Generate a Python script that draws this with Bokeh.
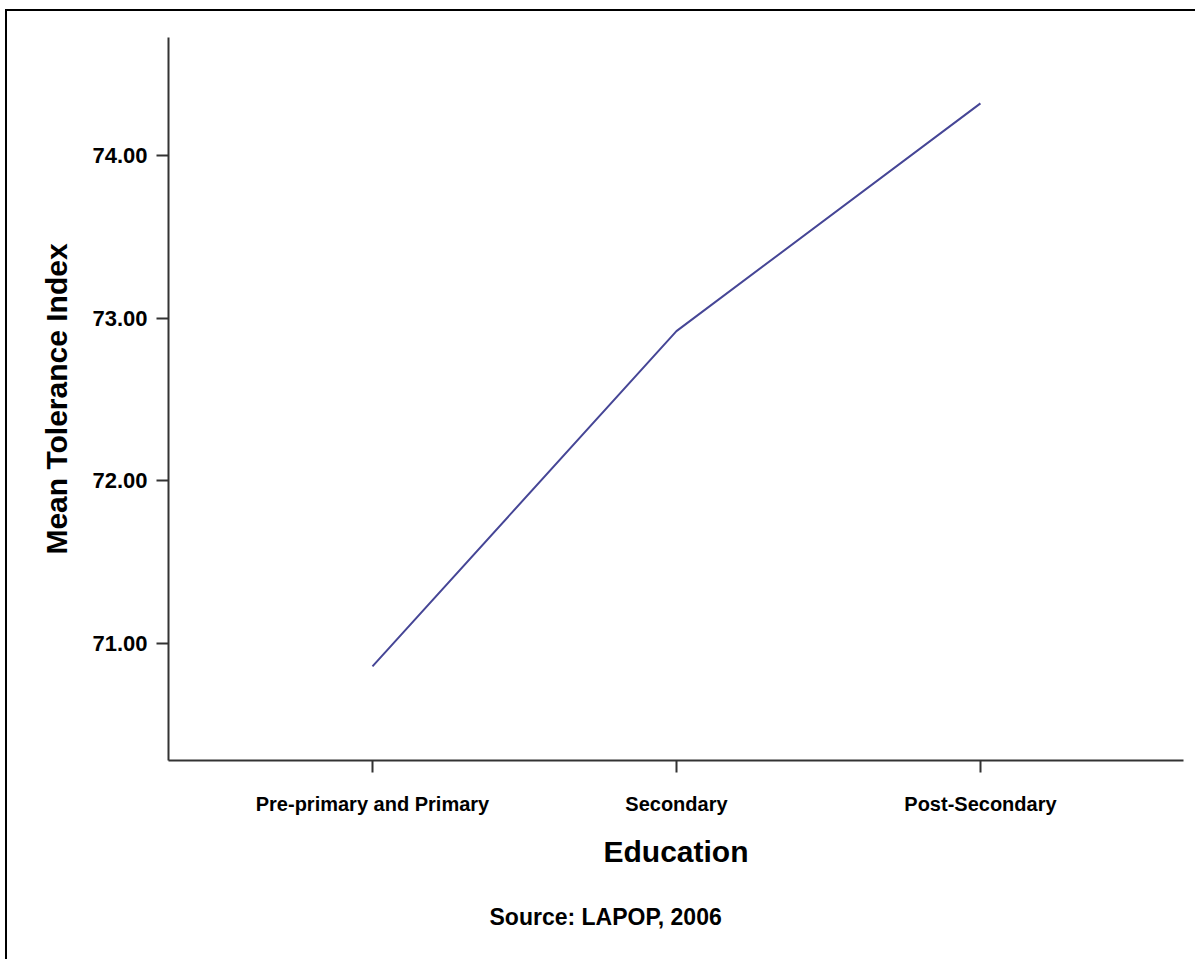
from bokeh.plotting import figure
from bokeh.models import FixedTicker, Range1d, Title
from bokeh.embed import file_html
from bokeh.resources import INLINE

categories = ["Pre-primary and Primary", "Secondary", "Post-Secondary"]
mean_tolerance = [70.86, 72.92, 74.32]
y_ticks = [71.0, 72.0, 73.0, 74.0]
y_tick_labels = ["71.00", "72.00", "73.00", "74.00"]

x_title = "Education"
y_title = "Mean Tolerance Index"
source_text = "Source: LAPOP, 2006"

xs = list(range(len(categories)))

p = figure(width=1190, height=950, output_backend="svg", toolbar_location=None,
           x_range=Range1d(-0.671, 2.668), y_range=Range1d(70.281, 74.725),
           min_border_left=161, min_border_right=14, min_border_top=26,
           min_border_bottom=201)
p.styles = {"border-top": "2px solid black", "border-left": "2px solid black",
            "margin-left": "5px", "margin-top": "9px"}

p.line(xs, mean_tolerance, line_color="#464696", line_width=2)

p.xgrid.visible = False
p.ygrid.visible = False
p.outline_line_color = None
p.background_fill_color = "white"
p.border_fill_color = "white"

for ax in (p.xaxis[0], p.yaxis[0]):
    ax.axis_line_color = "#333333"
    ax.axis_line_width = 2
    ax.major_tick_line_color = "#333333"
    ax.major_tick_line_width = 2
    ax.major_tick_in = 0
    ax.major_tick_out = 12
    ax.minor_tick_line_color = None
    ax.major_label_text_font = "Liberation Sans"
    ax.major_label_text_font_style = "bold"
    ax.major_label_text_color = "black"
    ax.axis_label_text_font = "Liberation Sans"
    ax.axis_label_text_font_style = "bold"
    ax.axis_label_text_color = "black"

p.xaxis.ticker = FixedTicker(ticks=xs)
p.xaxis.major_label_overrides = {x: c for x, c in zip(xs, categories)}
p.xaxis.major_label_text_font_size = "20px"
p.xaxis.major_label_standoff = 20
p.xaxis.axis_label = x_title
p.xaxis.axis_label_text_font_size = "30px"
p.xaxis.axis_label_standoff = 17

p.yaxis.ticker = FixedTicker(ticks=y_ticks)
p.yaxis.major_label_overrides = {t: l for t, l in zip(y_ticks, y_tick_labels)}
p.yaxis.major_label_text_font_size = "22px"
p.yaxis.major_label_standoff = 9
p.yaxis.axis_label = y_title
p.yaxis.axis_label_text_font_size = "30px"
p.yaxis.axis_label_standoff = 16

p.add_layout(Title(text=source_text, align="left", offset=321, standoff=63,
                   text_font="Liberation Sans", text_font_style="bold",
                   text_font_size="23px", text_color="black"), "below")

open("out.html", "w").write(file_html(p, INLINE))
